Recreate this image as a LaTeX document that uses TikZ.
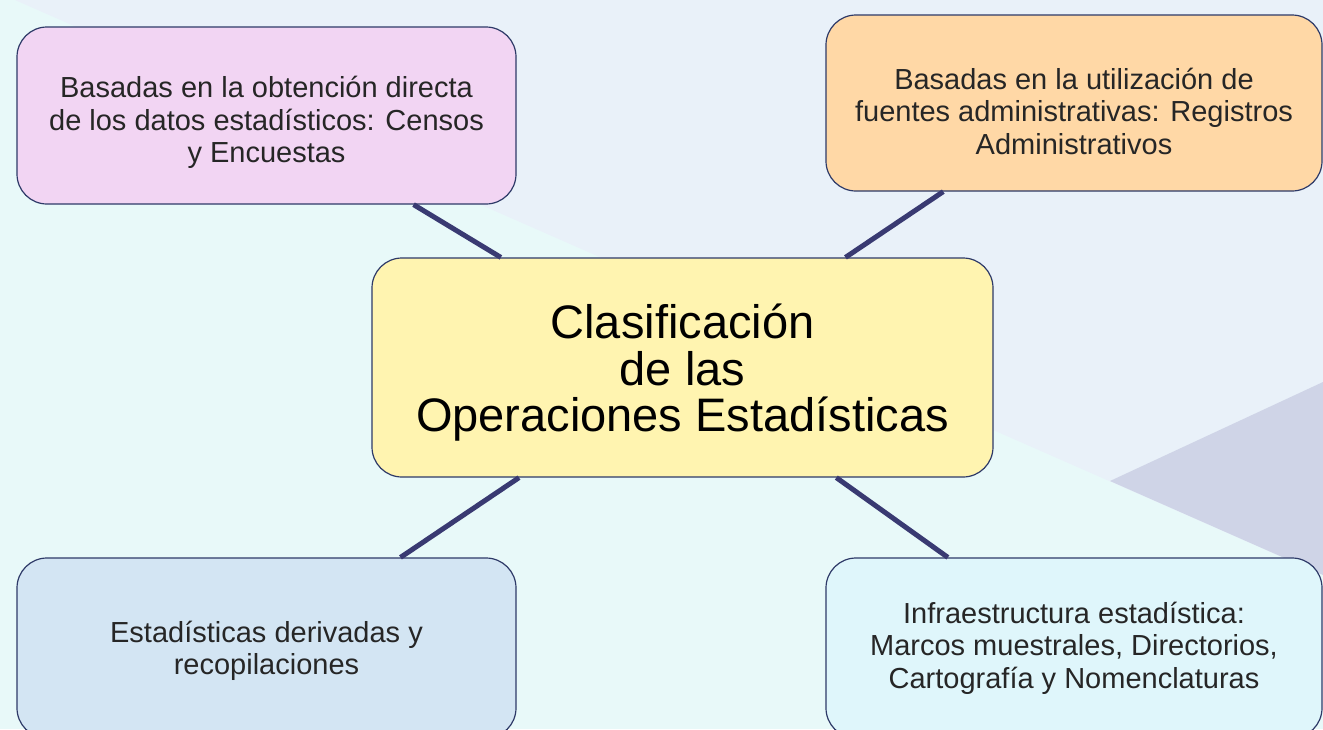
\documentclass[tikz,border=0pt]{standalone}
\usepackage{fontspec}
\setmainfont{Liberation Sans}
\definecolor{fondoA}{HTML}{E8F9F9}
\definecolor{fondoB}{HTML}{E9F1F9}
\definecolor{fondoC}{HTML}{CFD4E7}
\definecolor{rosa}{HTML}{F2D5F3}
\definecolor{naranja}{HTML}{FFD8A6}
\definecolor{amarillo}{HTML}{FFF4B0}
\definecolor{celeste}{HTML}{D3E5F3}
\definecolor{aguamarina}{HTML}{DFF6FB}
\definecolor{borde}{HTML}{2E3A68}
\definecolor{lineaC}{HTML}{393A72}
\definecolor{texto}{HTML}{262626}
\newcommand{\alto}[1]{\rule{0pt}{#1}}

\begin{document}
\begin{tikzpicture}[x=1pt,y=-1pt,
   caja/.style={draw=borde,line width=1.2pt,rounded corners=30pt,align=center,
      text=texto,font=\fontsize{29}{32.5}\selectfont},
   grande/.style={caja,text=black,font=\fontsize{47}{46.5}\selectfont},
   enlace/.style={draw=lineaC,line width=5pt}]

\useasboundingbox (0,0) rectangle (1323,729);
\clip (0,0) rectangle (1323,729);
\fill[fondoA] (0,0) rectangle (1323,729);
\fill[fondoB] (15,0) -- (1323,575) -- (1323,0) -- cycle;
\fill[fondoC] (1110,481) -- (1323,382) -- (1323,575) -- cycle;

\node[grande,fill=amarillo,minimum width=621pt,minimum height=219pt] (clasif) at (682.5,367.5)
   {\alto{45pt}Clasificación\\de las\\Operaciones Estadísticas};
\node[caja,fill=rosa,minimum width=499pt,minimum height=177pt] (directa) at (266.5,115.5)
   {\alto{36pt}Basadas en la obtención directa\\de los datos estadísticos: Censos\\y Encuestas};
\node[caja,fill=naranja,minimum width=496pt,minimum height=176pt] (admin) at (1074,103)
   {\alto{38pt}Basadas en la utilización de\\fuentes administrativas: Registros\\Administrativos};
\node[caja,fill=celeste,minimum width=499pt,minimum height=180pt] (derivadas) at (266.5,648)
   {\alto{27pt}Estadísticas derivadas y\\recopilaciones};
\node[caja,fill=aguamarina,minimum width=496pt,minimum height=180pt] (infra) at (1074,648)
   {Infraestructura estadística:\\Marcos muestrales, Directorios,\\Cartografía y Nomenclaturas};

\draw[enlace] (clasif) -- (directa);
\draw[enlace] (clasif) -- (admin);
\draw[enlace] (clasif) -- (derivadas);
\draw[enlace] (clasif) -- (infra);

\end{tikzpicture}
\end{document}
